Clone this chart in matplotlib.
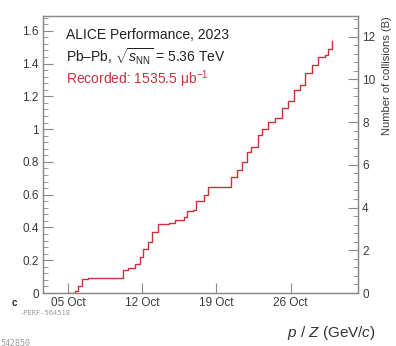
import numpy as np
import pandas as pd
import matplotlib
matplotlib.use("Agg")
from matplotlib import pyplot as plt
import matplotlib.dates as mdates
from matplotlib.ticker import MultipleLocator

plt.rcParams['font.family'] = ['Liberation Sans', 'DejaVu Sans']
plt.rcParams['mathtext.fontset'] = 'custom'
plt.rcParams['mathtext.rm'] = 'Liberation Sans'
plt.rcParams['mathtext.it'] = 'Liberation Sans:italic'
plt.rcParams['mathtext.bf'] = 'Liberation Sans:bold'

# integrated luminosity (nb^-1) vs. day of October 2023
days = [5.0, 5.66, 5.9, 6.3, 6.9, 10.16, 10.2, 10.7, 11.3, 11.8, 12.05, 12.5,
        12.9, 13.5, 14.5, 15.1, 15.9, 16.2, 16.8, 17.1, 17.8, 18.2, 20.0, 20.4,
        20.9, 21.4, 21.9, 22.3, 22.95, 23.3, 23.9, 24.5, 25.2, 25.8, 26.3, 26.9,
        27.4, 28.0, 28.6, 29.25, 29.55, 29.9]
lumi = [0, 0.012, 0.04, 0.084, 0.094, 0.094, 0.14, 0.15, 0.175, 0.22, 0.27, 0.31,
        0.37, 0.42, 0.425, 0.445, 0.466, 0.50, 0.507, 0.56, 0.60, 0.645, 0.645, 0.71,
        0.75, 0.80, 0.86, 0.89, 0.965, 1.0, 1.046, 1.067, 1.13, 1.17, 1.24, 1.27,
        1.34, 1.39, 1.44, 1.455, 1.49, 1.5355]
tick_days = [5, 12, 19, 26]
sigma_had = 7.67  # Pb-Pb hadronic cross section (b)

t0 = pd.Timestamp('2023-09-30')
dates = t0 + pd.to_timedelta(days, unit='D')

fig = plt.figure(figsize=(3.96, 3.46), dpi=100)
ax = fig.add_axes([43/396, 1-293/346, 315/396, 277/346])

ax.plot(dates, lumi, drawstyle='steps-post', color='#c8323c', lw=1.0)

ymax = 1.69
ax.set_ylim(0, ymax)
ax.set_xlim(t0 + pd.Timedelta(days=2.64), t0 + pd.Timedelta(days=32.36))
ax.set_xticks([t0 + pd.Timedelta(days=d) for d in tick_days])
ax.xaxis.set_major_formatter(mdates.DateFormatter('%d %b'))
ax.yaxis.set_major_locator(MultipleLocator(0.2))
ax.yaxis.set_minor_locator(MultipleLocator(0.04))
ax.set_yticks([0, 0.2, 0.4, 0.6, 0.8, 1.0, 1.2, 1.4, 1.6])
ax.set_yticklabels(['0', '0.2', '0.4', '0.6', '0.8', '1', '1.2', '1.4', '1.6'])

gray = '#8a8a8a'
for s in ax.spines.values():
    s.set_color(gray)
    s.set_linewidth(1.0)
ax.tick_params(axis='both', direction='in', color=gray, labelcolor='#3a3a3a',
               labelsize=8.5, pad=3)
ax.tick_params(axis='y', which='major', length=7, left=True, right=False)
ax.tick_params(axis='y', which='minor', direction='in', length=3.5, color=gray, right=False)
ax.tick_params(axis='x', which='major', length=7, top=False)

# collisions on the right axis
ax2 = ax.twinx()
ax2.set_ylim(0, ymax * sigma_had)
ax2.yaxis.set_major_locator(MultipleLocator(2))
ax2.yaxis.set_minor_locator(MultipleLocator(0.4))
ax2.tick_params(axis='y', which='both', direction='in', color=gray,
                labelcolor='#3a3a3a', labelsize=8.5, pad=3)
ax2.tick_params(axis='y', which='major', length=7)
ax2.tick_params(axis='y', which='minor', length=3.5)
for s in ax2.spines.values():
    s.set_color(gray)
ax2.set_ylabel('Number of collisions (B)', fontsize=8, color='#3a3a3a',
               loc='top', labelpad=5)

ax.text(66/396, 1-35/346, 'ALICE Performance, 2023', transform=fig.transFigure,
        fontsize=10, color='#222222', va='center')
ax.text(66/396, 1-57/346, r'Pb–Pb, $\sqrt{s_{\rm NN}}$ = 5.36 TeV',
        transform=fig.transFigure, fontsize=10, color='#222222', va='center')
ax.text(66/396, 1-79/346, r'Recorded: 1535.5 μb$^{-1}$',
        transform=fig.transFigure, fontsize=10, color='#c8323c', va='center')

fig.text(12/396, 1-303/346, 'c', fontsize=7, fontweight='bold', color='#222222',
         va='center')
fig.text(20/396, 1-313/346, '-PERF-564518', fontsize=5, family='DejaVu Sans Mono',
         color='#9a9a9a', va='center')
fig.text(0/396, 1-343/346, '542850', fontsize=6, family='DejaVu Sans Mono',
         color='#9a9a9a', va='center')
fig.text(287/396, 1-333/346, r'$p$ / $Z$ (GeV/$c$)', fontsize=11, color='#333333',
         va='center')

fig.savefig('out.png', dpi=100)
